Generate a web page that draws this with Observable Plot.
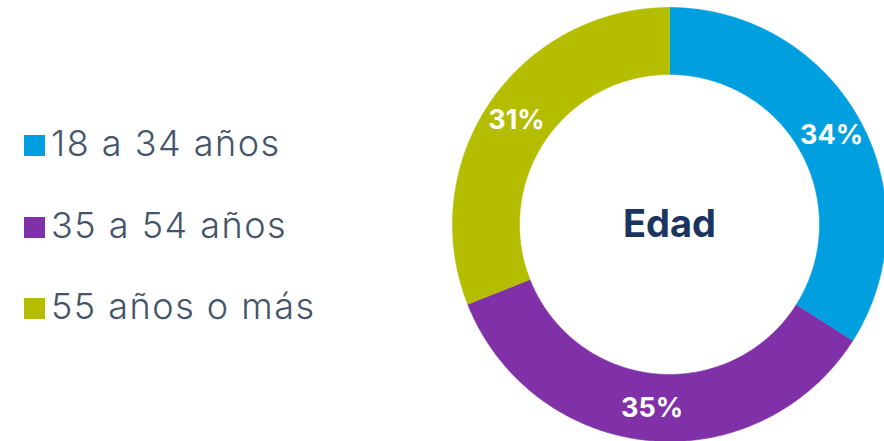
<!DOCTYPE html>
<html>
<head>
<meta charset="utf-8">
<script src="https://cdn.jsdelivr.net/npm/d3@7"></script>
<script src="https://cdn.jsdelivr.net/npm/@observablehq/plot@0.6"></script>
<style>
  html, body { margin: 0; padding: 0; background: #fff; }
  #wrap { position: relative; width: 884px; height: 441px; overflow: hidden; }
  #wrap svg { position: absolute; left: 0; top: 0; }
  .row { position: absolute; left: 24px; font-family: "Inter", "Open Sans", sans-serif; font-weight: 300;
         font-size: 36px; line-height: 36px; color: #44546A; white-space: nowrap; letter-spacing: 1.5px; }
  .sw { display: inline-block; width: 21px; height: 21px; vertical-align: baseline; }
  .lab { margin-left: 6px; }
</style>
</head>
<body>
<div id="wrap"></div>
<script>
// ---- data ----
const categories = ["18 a 34 años", "35 a 54 años", "55 años o más"];
const values = [34, 35, 31];
const colors = ["#009FDF", "#8031A7", "#B5BD00"];
const centerLabel = "Edad";

// ---- layout ----
const W = 884, H = 441;
const cx = 669, cy = 224, R = 217;       // pixels
const innerRatio = 150 / 217;
const labelRatio = 185 / 217;

const rows = categories.map((c, i) => ({cat: c, value: values[i]}));
const arcs = d3.pie().sort(null).value(d => d.value)(rows);

// ring polygons computed from the pie angles
const pts = [];
for (const a of arcs) {
  const n = Math.max(8, Math.ceil((a.endAngle - a.startAngle) / (Math.PI / 360)));
  for (let k = 0; k <= n; k++) {
    const t = a.startAngle + (a.endAngle - a.startAngle) * k / n;
    pts.push({cat: a.data.cat, u: Math.sin(t), v: Math.cos(t)});
  }
  for (let k = n; k >= 0; k--) {
    const t = a.startAngle + (a.endAngle - a.startAngle) * k / n;
    pts.push({cat: a.data.cat, u: innerRatio * Math.sin(t), v: innerRatio * Math.cos(t)});
  }
}
const labels = arcs.map(a => {
  const m = (a.startAngle + a.endAngle) / 2;
  return {text: a.data.value + "%", u: labelRatio * Math.sin(m), v: labelRatio * Math.cos(m)};
});

const chart = Plot.plot({
  width: W, height: H,
  margin: 0,
  style: {background: "transparent", overflow: "visible"},
  x: {domain: [-cx / R, (W - cx) / R], range: [0, W], axis: null},
  y: {domain: [(cy - H) / R, cy / R], range: [H, 0], axis: null},
  color: {domain: categories, range: colors},
  marks: [
    Plot.line(pts, {x: "u", y: "v", z: "cat", fill: "cat", stroke: "cat", strokeWidth: 0.6, curve: "linear"}),
    Plot.text(labels, {x: "u", y: "v", text: "text", fill: "white", fontSize: 27, fontWeight: 700,
      fontFamily: "Inter, 'Open Sans', sans-serif"}),
    Plot.text([centerLabel], {x: [0], y: [0], text: d => d, fill: "#1B3560", fontSize: 38, fontWeight: 700,
      fontFamily: "Inter, 'Open Sans', sans-serif"})
  ]
});

const wrap = document.getElementById("wrap");
wrap.appendChild(chart);

// legend (HTML, left side)
const baseline0 = 156, rowStep = 81.5, ascentPx = 31;
categories.forEach((c, i) => {
  const row = document.createElement("div");
  row.className = "row";
  row.style.top = (baseline0 + i * rowStep - ascentPx) + "px";
  const sw = document.createElement("span");
  sw.className = "sw";
  sw.style.background = colors[i];
  const lab = document.createElement("span");
  lab.className = "lab";
  lab.textContent = c;
  row.appendChild(sw);
  row.appendChild(lab);
  wrap.appendChild(row);
});
</script>
</body>
</html>
